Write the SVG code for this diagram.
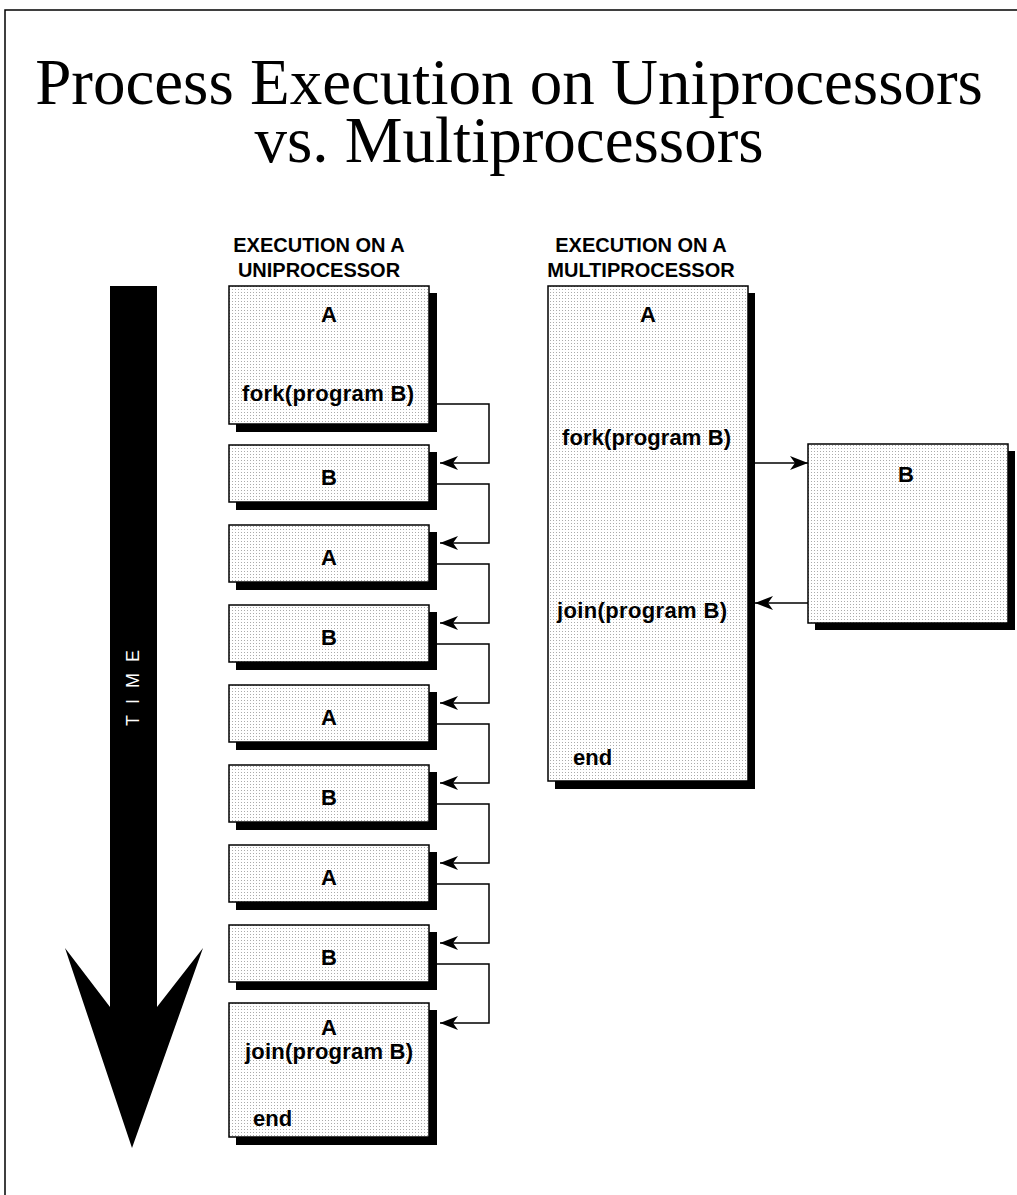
<svg xmlns="http://www.w3.org/2000/svg" width="1017" height="1195" viewBox="0 0 1017 1195">
  <defs>
    <!-- halftone stipple used for the process boxes -->
    <pattern id="stipple" width="3" height="3" patternUnits="userSpaceOnUse">
      <rect width="3" height="3" fill="#ffffff"/>
      <rect x="1" y="1" width="1" height="1" fill="#ababab"/>
    </pattern>
    <marker id="barb" viewBox="0 0 18 14" refX="18" refY="7" markerWidth="18" markerHeight="14" markerUnits="userSpaceOnUse" orient="auto">
      <path d="M0,0 L18,7 L0,14 L5,7 Z" fill="#000"/>
    </marker>
  </defs>
  <style>
    .title { font-family: "Liberation Serif", "Times New Roman", serif; font-size: 65px; fill: #000; text-anchor: middle; }
    .head { font-family: "Liberation Sans", Arial, sans-serif; font-size: 20px; font-weight: bold; fill: #000; text-anchor: middle; }
    .lbl { font-family: "Liberation Sans", Arial, sans-serif; font-size: 22px; font-weight: bold; fill: #000; }
    .mid { text-anchor: middle; }
    .box { fill: url(#stipple); stroke: #000; stroke-width: 1.5; }
    .shadow { fill: #000; }
    .conn { fill: none; stroke: #000; stroke-width: 1.5; marker-end: url(#barb); }
    .time { font-family: "Liberation Sans", Arial, sans-serif; font-size: 18px; fill: #fff; letter-spacing: 11px; }
  </style>

  <rect width="1017" height="1195" fill="#fff"/>
  <!-- page frame (top and left rules) -->
  <path d="M5,1195 V10 H1017" fill="none" stroke="#000" stroke-width="1.5"/>

  <!-- title -->
  <text class="title" x="509" y="104">Process Execution on Uniprocessors</text>
  <text class="title" x="509" y="162">vs. Multiprocessors</text>

  <!-- column headings -->
  <text class="head" x="319" y="252">EXECUTION ON A</text>
  <text class="head" x="319" y="277">UNIPROCESSOR</text>
  <text class="head" x="641" y="252">EXECUTION ON A</text>
  <text class="head" x="641" y="277">MULTIPROCESSOR</text>

  <!-- time arrow -->
  <g id="time-arrow">
    <path d="M110,286 H157 V1007 L203,948 L132,1148 L65,948 L110,1007 Z" fill="#000"/>
    <text class="time" transform="translate(139,726) rotate(-90)">TIME</text>
  </g>

  <!-- uniprocessor column -->
  <g id="uni-a1">
    <rect class="shadow" x="236" y="293" width="201" height="139"/>
    <rect class="box" x="229" y="286" width="200" height="138"/>
    <text class="lbl mid" x="329" y="322">A</text>
    <text class="lbl" x="242" y="401" textLength="172">fork(program B)</text>
  </g>
  <g id="uni-b1">
    <rect class="shadow" x="236" y="452" width="201" height="58"/>
    <rect class="box" x="229" y="445" width="200" height="57"/>
    <text class="lbl mid" x="329" y="485">B</text>
  </g>
  <g id="uni-a2">
    <rect class="shadow" x="236" y="532" width="201" height="58"/>
    <rect class="box" x="229" y="525" width="200" height="57"/>
    <text class="lbl mid" x="329" y="565">A</text>
  </g>
  <g id="uni-b2">
    <rect class="shadow" x="236" y="612" width="201" height="58"/>
    <rect class="box" x="229" y="605" width="200" height="57"/>
    <text class="lbl mid" x="329" y="645">B</text>
  </g>
  <g id="uni-a3">
    <rect class="shadow" x="236" y="692" width="201" height="58"/>
    <rect class="box" x="229" y="685" width="200" height="57"/>
    <text class="lbl mid" x="329" y="725">A</text>
  </g>
  <g id="uni-b3">
    <rect class="shadow" x="236" y="772" width="201" height="58"/>
    <rect class="box" x="229" y="765" width="200" height="57"/>
    <text class="lbl mid" x="329" y="805">B</text>
  </g>
  <g id="uni-a4">
    <rect class="shadow" x="236" y="852" width="201" height="58"/>
    <rect class="box" x="229" y="845" width="200" height="57"/>
    <text class="lbl mid" x="329" y="885">A</text>
  </g>
  <g id="uni-b4">
    <rect class="shadow" x="236" y="932" width="201" height="58"/>
    <rect class="box" x="229" y="925" width="200" height="57"/>
    <text class="lbl mid" x="329" y="965">B</text>
  </g>
  <g id="uni-a5">
    <rect class="shadow" x="236" y="1010" width="201" height="135"/>
    <rect class="box" x="229" y="1003" width="200" height="134"/>
    <text class="lbl mid" x="329" y="1035">A</text>
    <text class="lbl" x="245" y="1059" textLength="168">join(program B)</text>
    <text class="lbl" x="253" y="1126">end</text>
  </g>

  <!-- multiprocessor column -->
  <g id="multi-a">
    <rect class="shadow" x="555" y="293" width="200" height="496"/>
    <rect class="box" x="548" y="286" width="200" height="495"/>
    <text class="lbl mid" x="648" y="322">A</text>
    <text class="lbl" x="562" y="445" textLength="169">fork(program B)</text>
    <text class="lbl" x="557" y="618" textLength="170">join(program B)</text>
    <text class="lbl" x="573" y="765">end</text>
  </g>
  <g id="multi-b">
    <rect class="shadow" x="815" y="451" width="200" height="179"/>
    <rect class="box" x="808" y="444" width="200" height="179"/>
    <text class="lbl mid" x="906" y="482">B</text>
  </g>

  <!-- connectors -->
  <g id="connectors">
    <path class="conn" d="M437,404 H489 V463 H440"/>
    <path class="conn" d="M437,484 H489 V543 H440"/>
    <path class="conn" d="M437,564 H489 V623 H440"/>
    <path class="conn" d="M437,644 H489 V703 H440"/>
    <path class="conn" d="M437,724 H489 V783 H440"/>
    <path class="conn" d="M437,804 H489 V863 H440"/>
    <path class="conn" d="M437,884 H489 V943 H440"/>
    <path class="conn" d="M437,964 H489 V1023 H440"/>
    <path class="conn" d="M755,463 H808"/>
    <path class="conn" d="M808,603 H755"/>
  </g>
</svg>
